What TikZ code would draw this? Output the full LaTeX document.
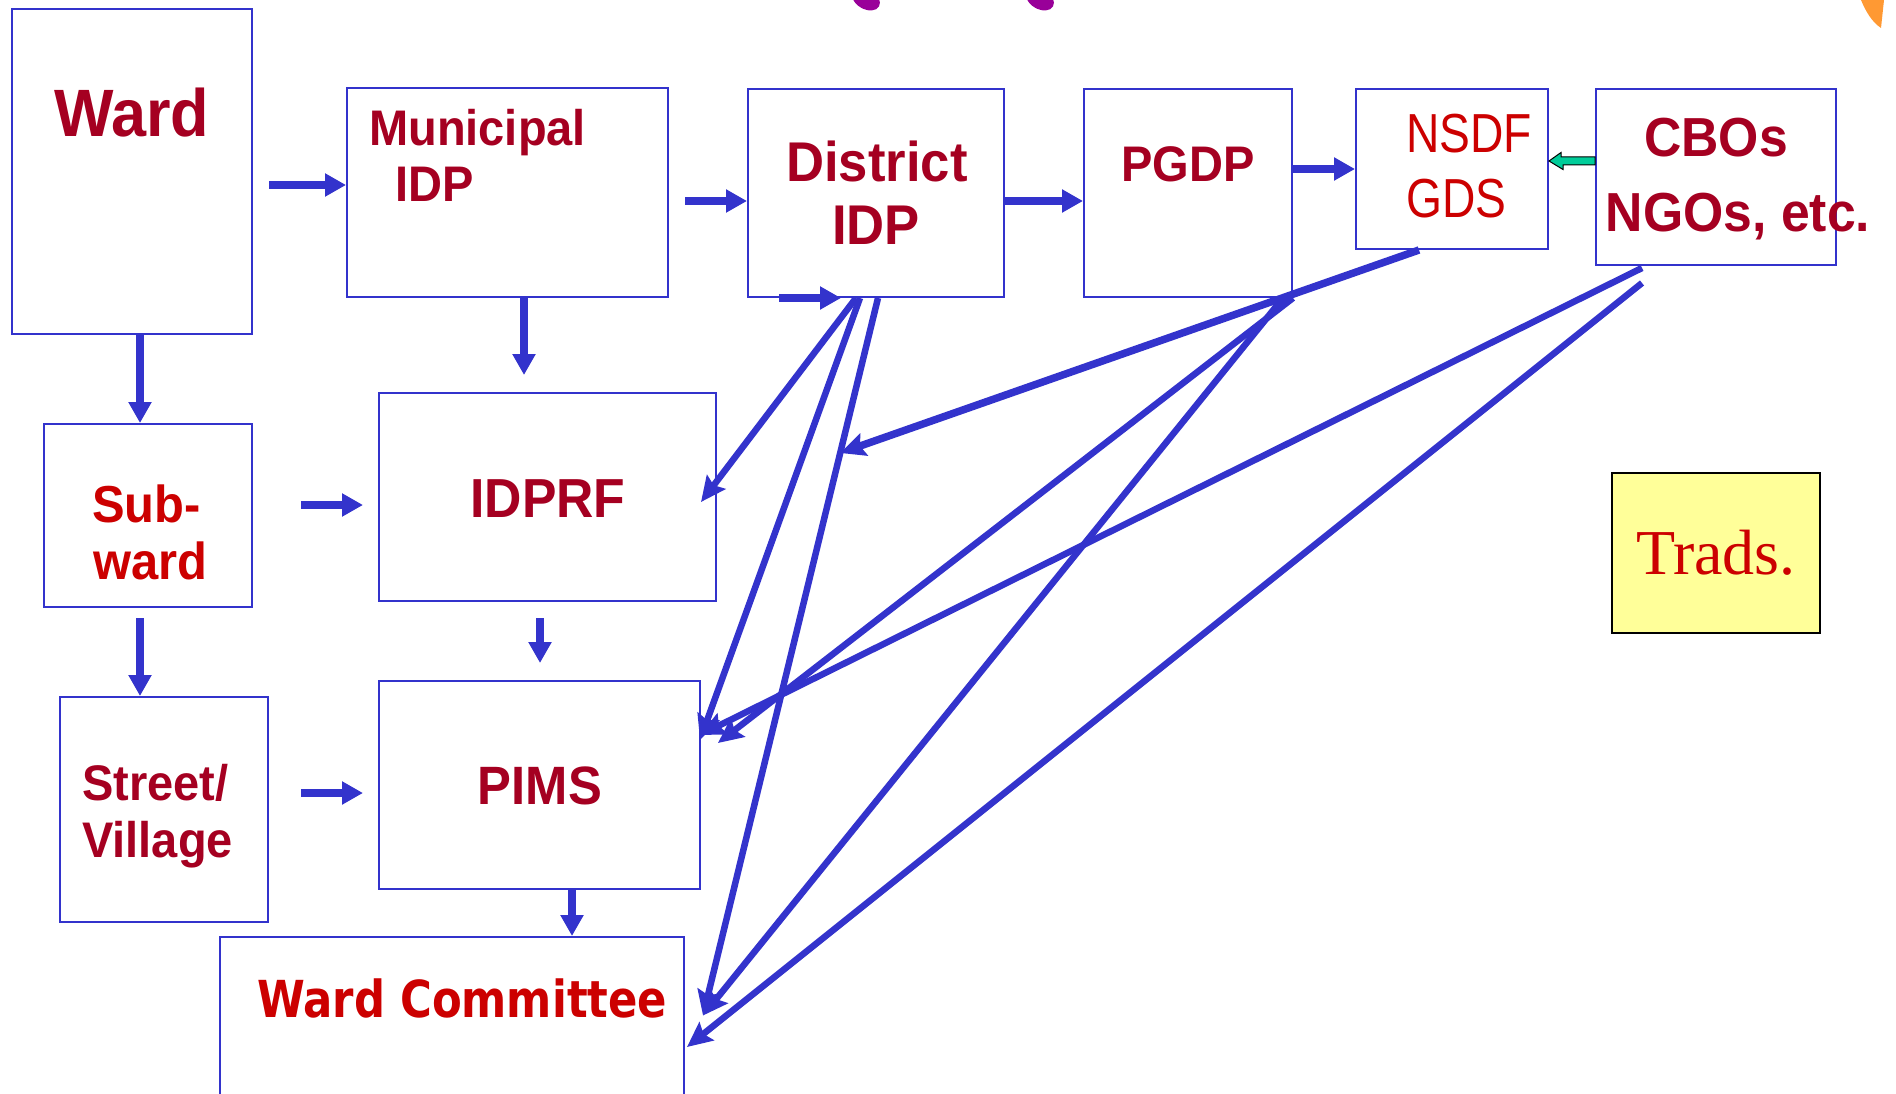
\documentclass[tikz,border=0pt]{standalone}
\usepackage{fontspec}
\usetikzlibrary{arrows.meta,calc}

\newfontfamily\hdfont[FakeStretch=0.94]{Liberation Sans}
\newfontfamily\gdsfont[FakeStretch=0.84]{Liberation Sans}
\newfontfamily\wcfont[FakeStretch=0.85]{DejaVu Sans}
\newfontfamily\tradfont{Liberation Serif}

\definecolor{boxblue}{HTML}{3333CC}
\definecolor{darkred}{HTML}{A50021}
\definecolor{brightred}{HTML}{CC0000}
\definecolor{titlepurple}{HTML}{990099}
\definecolor{logoorange}{HTML}{FF9933}
\definecolor{tradyellow}{HTML}{FFFF99}
\definecolor{gdsgreen}{HTML}{00CC99}

\newcommand{\fsz}[1]{\fontsize{#1}{#1}\selectfont}

\tikzset{
  box/.style={draw=boxblue, line width=2pt, inner sep=0pt},
  lbl/.style={inner sep=0pt, anchor=base west},
  lblc/.style={inner sep=0pt, anchor=base},
  flow/.style={draw=boxblue, line width=7.5pt, -{Triangle[length=21pt,width=22pt]}},
  link/.style={draw=boxblue, line width=6.5pt, -{Stealth[length=25pt,width=23pt,inset=4pt]}}
}

\begin{document}
\begin{tikzpicture}[x=1pt, y=-1pt]

\useasboundingbox (0,0) rectangle (1896,1094);
\clip (0,0) rectangle (1896,1094);
\fill[white] (0,0) rectangle (1896,1094);


% Slide fragments at the top edge
\fill[titlepurple, rotate around={-30:(866,-1)}] (866,-1) ellipse [x radius=15pt, y radius=10pt];
\fill[titlepurple, rotate around={-30:(1040,-1)}] (1040,-1) ellipse [x radius=15pt, y radius=10pt];
\fill[logoorange] (1861,0) .. controls (1866,12) and (1872,22) .. (1881,28) -- (1884,0) -- cycle;


% Boxes
\node[box, minimum width=240pt, minimum height=325pt] (ward) at (132,171.5) {};
\node[box, minimum width=321pt, minimum height=209pt] (muni) at (507.5,192.5) {};
\node[box, minimum width=256pt, minimum height=208pt] (dist) at (876,193) {};
\node[box, minimum width=208pt, minimum height=208pt] (pgdp) at (1188,193) {};
\node[box, minimum width=192pt, minimum height=160pt] (nsdf) at (1452,169) {};
\node[box, minimum width=240pt, minimum height=176pt] (cbos) at (1716,177) {};

\node[box, minimum width=208pt, minimum height=183pt] (subward) at (148,515.5) {};
\node[box, minimum width=337pt, minimum height=208pt] (idprf) at (547.5,497) {};
\node[box, minimum width=208pt, minimum height=225pt] (street) at (164,809.5) {};
\node[box, minimum width=321pt, minimum height=208pt] (pims) at (539.5,785) {};
\node[box, minimum width=464pt, minimum height=183pt] (wardcom) at (452,1028.5) {};

\node[draw=black, line width=2.5pt, fill=tradyellow, inner sep=0pt,
      minimum width=208pt, minimum height=160pt,
      text=brightred, font=\tradfont\fsz{64}] (trads) at (1716,553) {Trads.};


% Labels
\path
(54,137) node[lbl, text=darkred, font=\hdfont\bfseries\fsz{67}] (wardA) {Ward};

\path
(369,146) node[lbl, text=darkred, font=\hdfont\bfseries\fsz{50}] (muniA) {Municipal}
(395,202) node[lbl, text=darkred, font=\hdfont\bfseries\fsz{50}] (muniB) {IDP};

\path
(877,182) node[lblc, text=darkred, font=\hdfont\bfseries\fsz{56}] (distA) {District}
(876,245) node[lblc, text=darkred, font=\hdfont\bfseries\fsz{56}] (distB) {IDP};

\path
(1188,182) node[lblc, text=darkred, font=\hdfont\bfseries\fsz{50}] (pgdpA) {PGDP};

\path
(1406,153) node[lbl, text=brightred, font=\gdsfont\fsz{55}] (nsdfA) {NSDF}
(1406,218) node[lbl, text=brightred, font=\gdsfont\fsz{55}] (nsdfB) {GDS};

\path
(1716,157) node[lblc, text=darkred, font=\hdfont\bfseries\fsz{55}] (cbosA) {CBOs}
(1738,232) node[lblc, text=darkred, font=\hdfont\bfseries\fsz{55}] (cbosB) {NGOs, etc.};

\path
(92,522) node[lbl, text=brightred, font=\hdfont\bfseries\fsz{52}] (subA) {Sub-}
(93,579) node[lbl, text=brightred, font=\hdfont\bfseries\fsz{52}] (subB) {ward};

\path
(548,517) node[lblc, text=darkred, font=\hdfont\bfseries\fsz{55}] (idprfA) {IDPRF};

\path
(82,800) node[lbl, text=darkred, font=\hdfont\bfseries\fsz{50}] (streetA) {Street/}
(82,857) node[lbl, text=darkred, font=\hdfont\bfseries\fsz{50}] (streetB) {Village};

\path
(540,804) node[lblc, text=darkred, font=\hdfont\bfseries\fsz{54}] (pimsA) {PIMS};

\path
(257,1017) node[lbl, text=brightred, font=\wcfont\bfseries\fsz{51}] (wardcomA) {Ward Committee};


% Flow between levels
\draw[flow, shorten <=16pt] (ward.east |- 0,185) -- (muni.west |- 0,185);
\draw[flow, shorten <=16pt] (muni.east |- 0,201) -- (dist.west |- 0,201);
\draw[flow] (dist.east |- 0,201) -- (pgdp.west |- 0,201);
\draw[flow] (pgdp.east |- 0,169) -- (nsdf.west |- 0,169);
\draw[flow, shorten >=17pt] (524,0 |- muni.south) -- (524,0 |- idprf.north);
\draw[flow] (140,0 |- ward.south) -- (140,0 |- subward.north);
\draw[flow, shorten <=48pt, shorten >=15pt] (subward.east |- 0,505) -- (idprf.west |- 0,505);
\draw[flow, shorten <=16pt, shorten >=17pt] (540,0 |- idprf.south) -- (540,0 |- pims.north);
\draw[flow, shorten <=10pt] (140,0 |- subward.south) -- (140,0 |- street.north);
\draw[flow, shorten <=32pt, shorten >=15pt] (street.east |- 0,793) -- (pims.west |- 0,793);
\draw[flow] (572,0 |- pims.south) -- (572,0 |- wardcom.north);
\draw[flow] ($(dist.south west)+(32,0)$) -- ($(dist.south west)+(94,0)$);

% CBOs feed NSDF
\filldraw[fill=gdsgreen, draw=black, line width=1pt]
  (cbos.west |- 0,157) -- ++(-34,0) -- ++(0,-4.5) -- (nsdf.east |- 0,161)
  -- ++(14,8.5) -- ++(0,-4.5) -- (cbos.west |- 0,165) -- cycle;


% Links down to the local level
\coordinate (dwcA) at ($(dist.south)+(2,0)$);
\coordinate (dwcB) at ($(wardcom.east)+(18,-13)$);

\draw[link] ($(dist.south)+(-20,0)$) -- ($(idprf.east)+(-16,5)$);
\draw[link] ($(dist.south)+(-16,0)$) -- ($(pims.east)+(-1,-45)$);
\draw[link] (dwcA) -- (dwcB);

\draw[link, line width=7.5pt] ($(nsdf.south)+(-33,0)$) -- ($(dwcA)!0.216!(dwcB)$);

\draw[link] (pgdp.south east) -- ($(pims.east)+(17,-42)$);
\draw[link] ($(pgdp.south east)+(-10,0)$) -- (dwcB);

\draw[link] ($(cbos.south)+(-74,2)$) -- ($(pims.east)+(-1,-50)$);
\draw[link] ($(cbos.south)+(-74,17)$) -- ($(wardcom.east)+(2,18.5)$);

\end{tikzpicture}
\end{document}
